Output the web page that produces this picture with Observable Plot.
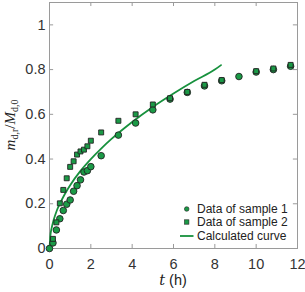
<!DOCTYPE html>
<html>
<head>
<meta charset="utf-8">
<script src="https://cdn.jsdelivr.net/npm/d3@7"></script>
<script src="https://cdn.jsdelivr.net/npm/@observablehq/plot@0.6"></script>
<style>
  html, body { margin: 0; padding: 0; background: #fff; }
  #chart svg { display: block; }
</style>
</head>
<body>
<div id="chart"></div>
<script>
// Sample 1 (circles)
const t1 = [0, 0.167, 0.333, 0.5, 0.667, 0.833, 1.0, 1.167, 1.333, 1.5, 1.667, 1.833, 2.0, 2.5, 3.333, 4.167, 5.0, 5.833, 6.667, 7.5, 8.333, 9.167, 10.0, 10.833, 11.667];
const v1 = [0, 0.025, 0.083, 0.133, 0.17, 0.198, 0.217, 0.256, 0.281, 0.307, 0.342, 0.348, 0.366, 0.415, 0.507, 0.561, 0.62, 0.668, 0.698, 0.727, 0.75, 0.769, 0.789, 0.80, 0.815];
// Sample 2 (squares)
const t2 = [0.167, 0.333, 0.5, 0.667, 0.833, 1.0, 1.167, 1.333, 1.5, 1.667, 1.833, 2.0, 2.5, 3.333, 4.167, 5.0, 5.833, 6.667, 7.5, 8.333, 10.0, 10.833, 11.667];
const v2 = [0.043, 0.117, 0.202, 0.262, 0.314, 0.365, 0.39, 0.42, 0.434, 0.442, 0.457, 0.482, 0.519, 0.571, 0.60, 0.644, 0.672, 0.70, 0.732, 0.753, 0.793, 0.805, 0.821];
// Calculated curve
const tc = [0, 0.05, 0.1, 0.2, 0.35, 0.5, 0.75, 1, 1.5, 2, 2.5, 3, 4, 5, 6, 7, 8, 8.3];
const vc = [0, 0.064, 0.09, 0.127, 0.169, 0.2, 0.245, 0.283, 0.347, 0.40, 0.447, 0.49, 0.566, 0.633, 0.693, 0.749, 0.80, 0.82];
// Ticks
const xTicks = [0, 2, 4, 6, 8, 10, 12];
const yTicks = [0, 0.2, 0.4, 0.6, 0.8, 1];
const legendLabels = ["Data of sample 1", "Data of sample 2", "Calculated curve"];

const s1 = t1.map((t, i) => ({t, v: v1[i]}));
const s2 = t2.map((t, i) => ({t, v: v2[i]}));
const sc = tc.map((t, i) => ({t, v: vc[i]}));

const green = "#1a9a46";
const lineGreen = "#17913d";
const gray = "#9a9a9a";

const plot = Plot.plot({
  width: 305,
  height: 292,
  marginLeft: 49,
  marginRight: 8,
  marginTop: 2,
  marginBottom: 44,
  style: {fontFamily: "Liberation Sans, Arial, sans-serif", fontSize: "14px", color: "#333", background: "#fff"},
  x: {domain: [0, 12], ticks: xTicks, label: null},
  y: {domain: [0, 1.1], ticks: yTicks, label: null},
  marks: [
    Plot.axisX({ticks: xTicks, tickSize: 0, tickPadding: 10, label: null, fontSize: 14.5}),
    Plot.axisY({ticks: yTicks, tickSize: 0, tickPadding: 4, label: null, fontSize: 14.5, tickFormat: d => String(d)}),
    // inward ticks
    Plot.ruleX(xTicks, {x: d => d, y1: 0, y2: 0.018, stroke: gray, strokeWidth: 1}),
    Plot.ruleX(xTicks, {x: d => d, y1: 1.1, y2: 1.082, stroke: gray, strokeWidth: 1}),
    Plot.ruleY(yTicks, {y: d => d, x1: 0, x2: 0.2, stroke: gray, strokeWidth: 1}),
    Plot.ruleY(yTicks, {y: d => d, x1: 12, x2: 11.8, stroke: gray, strokeWidth: 1}),
    Plot.frame({stroke: gray, strokeWidth: 1}),
    Plot.line(sc, {x: "t", y: "v", stroke: lineGreen, strokeWidth: 1.8, curve: "monotone-x"}),
    Plot.dot(s1, {x: "t", y: "v", r: 3.3, symbol: "circle", fill: green, stroke: "#222", strokeWidth: 0.9}),
    Plot.dot(s2, {x: "t", y: "v", r: 2.8, symbol: "square", fill: green, stroke: "#222", strokeWidth: 0.9})
  ]
});

document.getElementById("chart").appendChild(plot);

// Legend and math axis labels
const svg = d3.select(plot);
const lg = svg.append("g").attr("font-family", "Liberation Sans, Arial, sans-serif").attr("font-size", 12)
  .attr("fill", "#222").attr("text-anchor", "start");
const rows = [209, 222, 236];
const mx = 186.7;
lg.append("circle").attr("cx", mx).attr("cy", rows[0]).attr("r", 2.3).attr("fill", green).attr("stroke", "#222").attr("stroke-width", 0.6);
lg.append("rect").attr("x", mx - 2.2).attr("y", rows[1] - 2.2).attr("width", 4.4).attr("height", 4.4).attr("fill", green).attr("stroke", "#222").attr("stroke-width", 0.6);
lg.append("line").attr("x1", 180).attr("x2", 193.5).attr("y1", rows[2]).attr("y2", rows[2]).attr("stroke", lineGreen).attr("stroke-width", 1.8);
legendLabels.forEach((s, i) => {
  lg.append("text").attr("x", 197).attr("y", rows[i]).attr("dy", "0.36em").attr("text-anchor", "start").text(s);
});

// x label: t (h)
const xl = svg.append("text").attr("x", 173).attr("y", 285).attr("text-anchor", "middle")
  .attr("font-size", 14.5).attr("fill", "#222");
xl.append("tspan").attr("font-family", "DejaVu Serif, Liberation Serif, serif").attr("font-style", "italic").text("t");
xl.append("tspan").attr("font-family", "Liberation Sans, Arial, sans-serif").text(" (h)");

// y label: m_{d,r}/M_{d,0}
const yl = svg.append("text").attr("transform", "translate(15,125) rotate(-90)").attr("text-anchor", "middle")
  .attr("font-family", "Liberation Serif, DejaVu Serif, serif").attr("font-size", 15).attr("fill", "#222");
yl.append("tspan").attr("font-style", "italic").text("m");
yl.append("tspan").attr("font-size", 10).attr("dy", 3).text("d,r");
yl.append("tspan").attr("dy", -3).text("/");
yl.append("tspan").attr("font-style", "italic").text("M");
yl.append("tspan").attr("font-size", 10).attr("dy", 3).text("d,0");
</script>
</body>
</html>
